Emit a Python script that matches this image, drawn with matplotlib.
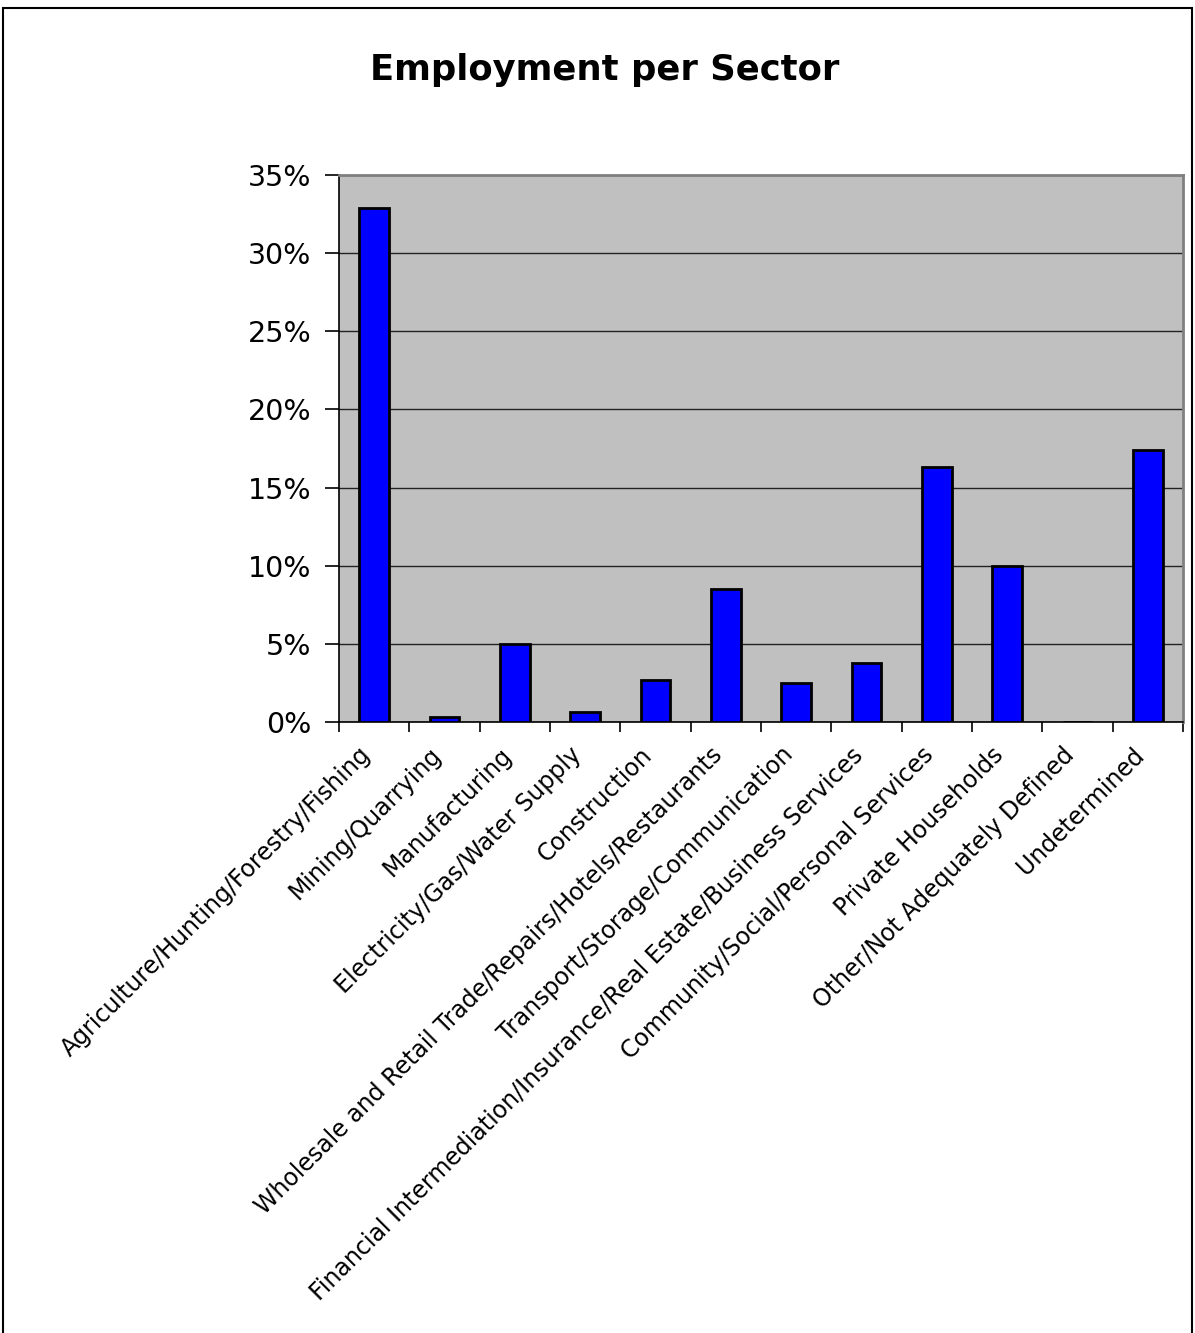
import numpy as np
import matplotlib.pyplot as plt
import matplotlib.transforms as mtransforms
from matplotlib.patches import Rectangle
from matplotlib.ticker import FixedLocator, PercentFormatter

sectors = [
    "Agriculture/Hunting/Forestry/Fishing",
    "Mining/Quarrying",
    "Manufacturing",
    "Electricity/Gas/Water Supply",
    "Construction",
    "Wholesale and Retail Trade/Repairs/Hotels/Restaurants",
    "Transport/Storage/Communication",
    "Financial Intermediation/Insurance/Real Estate/Business Services",
    "Community/Social/Personal Services",
    "Private Households",
    "Other/Not Adequately Defined",
    "Undetermined",
]
share = [32.9, 0.35, 5.0, 0.65, 2.7, 8.5, 2.5, 3.75, 16.3, 10.0, 0.0, 17.4]

fig = plt.figure(figsize=(11.95, 13.33), dpi=100)
W, H = 1195, 1333

# outer chart frame (bottom edge runs off the canvas)
fig.patches.append(Rectangle((3 / W, -0.01), (1192 - 3) / W, 1.01 - 8 / H,
                             transform=fig.transFigure, fill=False,
                             edgecolor='black', linewidth=1.5))

ax = fig.add_axes([339 / W, 1 - 722 / H, (1183 - 339) / W, (722 - 175) / H])
ax.set_facecolor('#c0c0c0')

x = np.arange(len(sectors))
ax.bar(x, share, width=0.42, color='#0000ff', edgecolor='black', linewidth=2, zorder=3)

ax.set_xlim(-0.5, len(sectors) - 0.5)
ax.set_ylim(0, 35)
ax.yaxis.set_major_locator(FixedLocator(np.arange(0, 36, 5)))
ax.yaxis.set_major_formatter(PercentFormatter(decimals=0))
ax.grid(axis='y', color='#222222', linewidth=1.0, zorder=1)

ax.set_xticks(x)
ax.set_xticklabels(sectors, rotation=45, ha='right', va='center', rotation_mode='anchor')
ax.set_xticks(np.arange(-0.5, len(sectors)), minor=True)
ax.tick_params(axis='x', which='major', length=0, pad=21, labelsize=17)
ax.tick_params(axis='x', which='minor', length=7, width=1.2, direction='out')
ax.tick_params(axis='y', length=10, width=1.2, pad=10, labelsize=20.5)

# nudge the slanted category labels a little to the left
shift = mtransforms.ScaledTranslation(-0.07, 0, fig.dpi_scale_trans)
for lab in ax.get_xticklabels():
    lab.set_transform(lab.get_transform() + shift)

for side in ['left', 'bottom']:
    ax.spines[side].set_color('black')
    ax.spines[side].set_linewidth(1.2)
for side in ['top', 'right']:
    ax.spines[side].set_color('#808080')
    ax.spines[side].set_linewidth(2)

fig.text(605 / W, 1 - 70 / H, "Employment per Sector", ha='center', va='center',
         fontsize=25.5, fontweight='bold')

fig.savefig("out.png", dpi=100)
